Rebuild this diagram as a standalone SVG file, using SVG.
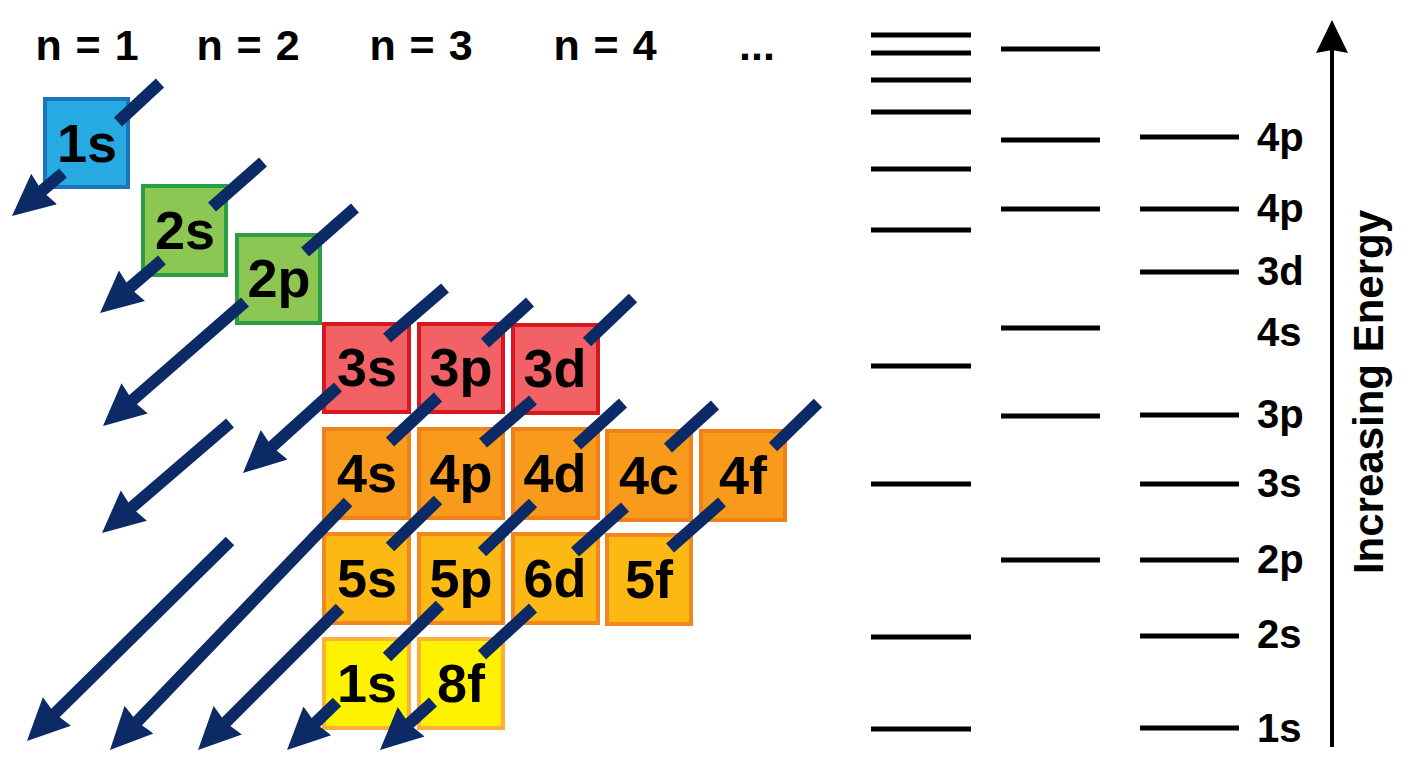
<svg xmlns="http://www.w3.org/2000/svg" width="1408" height="768" viewBox="0 0 1408 768">
<style>
.hdr{font-family:"Liberation Sans",Arial,sans-serif;font-weight:bold;font-size:43px;fill:#000;text-anchor:middle;word-spacing:2px}
.lbl{font-family:"Liberation Sans",Arial,sans-serif;font-weight:bold;font-size:54px;fill:#000;text-anchor:middle}
.elbl{font-family:"Liberation Sans",Arial,sans-serif;font-weight:bold;font-size:40px;fill:#000}
.axis{font-family:"Liberation Sans",Arial,sans-serif;font-weight:bold;font-size:42px;fill:#000;text-anchor:middle}
.box{stroke-width:4}
.blue{fill:#27A9E1;stroke:#1B75BB}
.green{fill:#8DC753;stroke:#2A9D45}
.red{fill:#F26165;stroke:#D7191F}
.or4{fill:#F89A1C;stroke:#F0801A}
.or5{fill:#FDB913;stroke:#F3861F}
.yel{fill:#FFF200;stroke:#FBB03B}
.seg{stroke:#0B2A66;stroke-width:12;fill:none}
.arr{stroke:#0B2A66;stroke-width:12;fill:none;marker-end:url(#head)}
.lev{stroke:#000;stroke-width:5}
</style>
<defs>
<marker id="head" markerUnits="userSpaceOnUse" markerWidth="44" markerHeight="44" viewBox="0 -22 44 44" refX="6" refY="0" orient="auto">
<path d="M0,-20 L42,0 L0,20 L3,0 Z" fill="#0B2A66"/>
</marker>
<marker id="uphead" markerUnits="userSpaceOnUse" markerWidth="36" markerHeight="36" viewBox="0 -18 36 36" refX="4" refY="0" orient="auto">
<path d="M0,-16 L33,0 L0,16 L3,0 Z" fill="#000"/>
</marker>
</defs>
<rect width="1408" height="768" fill="#fff"/>

<g id="headers">
<text class="hdr" x="87" y="60">n = 1</text>
<text class="hdr" x="248" y="60">n = 2</text>
<text class="hdr" x="421" y="60">n = 3</text>
<text class="hdr" x="605" y="60">n = 4</text>
<text class="hdr" x="757" y="60">...</text>
</g>

<g id="node-1s"><rect class="box blue" x="45" y="99" width="83" height="88"/><text class="lbl" x="87" y="162">1s</text></g>
<g id="node-2s"><rect class="box green" x="143" y="186" width="83" height="89"/><text class="lbl" x="185" y="249">2s</text></g>
<g id="node-2p"><rect class="box green" x="237" y="235" width="83" height="88"/><text class="lbl" x="279" y="297">2p</text></g>
<g id="node-3s"><rect class="box red" x="324" y="324" width="85" height="88"/><text class="lbl" x="367" y="386">3s</text></g>
<g id="node-3p"><rect class="box red" x="419" y="324" width="84" height="88"/><text class="lbl" x="461" y="386">3p</text></g>
<g id="node-3d"><rect class="box red" x="513" y="325" width="85" height="88"/><text class="lbl" x="555" y="387">3d</text></g>
<g id="node-4s"><rect class="box or4" x="324" y="429" width="85" height="89"/><text class="lbl" x="367" y="492">4s</text></g>
<g id="node-4p"><rect class="box or4" x="419" y="429" width="84" height="89"/><text class="lbl" x="461" y="492">4p</text></g>
<g id="node-4d"><rect class="box or4" x="513" y="429" width="85" height="89"/><text class="lbl" x="555" y="492">4d</text></g>
<g id="node-4c"><rect class="box or4" x="607" y="431" width="84" height="89"/><text class="lbl" x="649" y="494">4c</text></g>
<g id="node-4f"><rect class="box or4" x="701" y="431" width="84" height="89"/><text class="lbl" x="743" y="494">4f</text></g>
<g id="node-5s"><rect class="box or5" x="324" y="534" width="85" height="89"/><text class="lbl" x="367" y="597">5s</text></g>
<g id="node-5p"><rect class="box or5" x="419" y="534" width="84" height="89"/><text class="lbl" x="461" y="597">5p</text></g>
<g id="node-6d"><rect class="box or5" x="513" y="534" width="85" height="89"/><text class="lbl" x="555" y="597">6d</text></g>
<g id="node-5f"><rect class="box or5" x="607" y="535" width="84" height="89"/><text class="lbl" x="649" y="598">5f</text></g>
<g id="node-1s-b"><rect class="box yel" x="324" y="639" width="85" height="89"/><text class="lbl" x="367" y="702">1s</text></g>
<g id="node-8f"><rect class="box yel" x="419" y="639" width="84" height="89"/><text class="lbl" x="461" y="702">8f</text></g>

<g id="connectors">
<line class="seg" x1="160" y1="83" x2="118" y2="122"/>
<line class="seg" x1="263" y1="162" x2="212" y2="207"/>
<line class="seg" x1="355" y1="208" x2="305" y2="252"/>
<line class="seg" x1="445" y1="288" x2="387" y2="338"/>
<line class="seg" x1="530" y1="302" x2="485" y2="343"/>
<line class="seg" x1="633" y1="298" x2="587" y2="342"/>
<line class="seg" x1="438" y1="397" x2="390" y2="442"/>
<line class="seg" x1="533" y1="400" x2="483" y2="443"/>
<line class="seg" x1="623" y1="403" x2="577" y2="445"/>
<line class="seg" x1="715" y1="405" x2="668" y2="448"/>
<line class="seg" x1="818" y1="403" x2="773" y2="447"/>
<line class="seg" x1="438" y1="500" x2="390" y2="547"/>
<line class="seg" x1="533" y1="503" x2="482" y2="552"/>
<line class="seg" x1="625" y1="507" x2="575" y2="552"/>
<line class="seg" x1="722" y1="502" x2="670" y2="548"/>
<line class="seg" x1="440" y1="605" x2="387" y2="657"/>
<line class="seg" x1="533" y1="608" x2="482" y2="655"/>
<line class="arr" x1="63" y1="173" x2="39.5" y2="192.8"/>
<line class="arr" x1="162" y1="260" x2="127.4" y2="289.6"/>
<line class="arr" x1="245" y1="302" x2="130.1" y2="402.3"/>
<line class="arr" x1="338" y1="387" x2="269.7" y2="448.8"/>
<line class="arr" x1="230" y1="423" x2="129.3" y2="509.5"/>
<line class="arr" x1="230" y1="541" x2="52.6" y2="715.7"/>
<line class="arr" x1="348" y1="502" x2="134.9" y2="724"/>
<line class="arr" x1="340" y1="608" x2="223.5" y2="724.5"/>
<line class="arr" x1="337" y1="702" x2="313" y2="725.1"/>
<line class="arr" x1="433" y1="702" x2="406.7" y2="725.8"/>
</g>

<g id="levels-col1">
<line class="lev" x1="871" y1="35" x2="971" y2="35"/>
<line class="lev" x1="871" y1="53" x2="971" y2="53"/>
<line class="lev" x1="871" y1="80" x2="971" y2="80"/>
<line class="lev" x1="871" y1="112" x2="971" y2="112"/>
<line class="lev" x1="871" y1="169" x2="971" y2="169"/>
<line class="lev" x1="871" y1="230" x2="971" y2="230"/>
<line class="lev" x1="871" y1="366" x2="971" y2="366"/>
<line class="lev" x1="871" y1="484" x2="971" y2="484"/>
<line class="lev" x1="871" y1="637" x2="971" y2="637"/>
<line class="lev" x1="871" y1="729" x2="971" y2="729"/>
</g>
<g id="levels-col2">
<line class="lev" x1="1001" y1="49" x2="1100" y2="49"/>
<line class="lev" x1="1001" y1="140" x2="1100" y2="140"/>
<line class="lev" x1="1001" y1="209" x2="1100" y2="209"/>
<line class="lev" x1="1001" y1="328" x2="1100" y2="328"/>
<line class="lev" x1="1001" y1="416" x2="1100" y2="416"/>
<line class="lev" x1="1001" y1="560" x2="1100" y2="560"/>
</g>
<g id="levels-col3">
<line class="lev" x1="1140" y1="137" x2="1239" y2="137"/>
<line class="lev" x1="1140" y1="209" x2="1239" y2="209"/>
<line class="lev" x1="1140" y1="272" x2="1239" y2="272"/>
<line class="lev" x1="1140" y1="415" x2="1239" y2="415"/>
<line class="lev" x1="1140" y1="484" x2="1239" y2="484"/>
<line class="lev" x1="1140" y1="560" x2="1239" y2="560"/>
<line class="lev" x1="1140" y1="636" x2="1239" y2="636"/>
<line class="lev" x1="1140" y1="728" x2="1239" y2="728"/>
</g>
<g id="level-labels">
<text class="elbl" x="1257" y="151">4p</text>
<text class="elbl" x="1257" y="222">4p</text>
<text class="elbl" x="1257" y="285">3d</text>
<text class="elbl" x="1257" y="346">4s</text>
<text class="elbl" x="1257" y="428">3p</text>
<text class="elbl" x="1257" y="497">3s</text>
<text class="elbl" x="1257" y="573">2p</text>
<text class="elbl" x="1257" y="648">2s</text>
<text class="elbl" x="1257" y="742">1s</text>
</g>
<g id="energy-axis">
<line x1="1332" y1="747" x2="1332" y2="49" stroke="#000" stroke-width="4" marker-end="url(#uphead)"/>
<text class="axis" transform="rotate(-90 1383 392)" x="1383" y="392">Increasing Energy</text>
</g>
</svg>
